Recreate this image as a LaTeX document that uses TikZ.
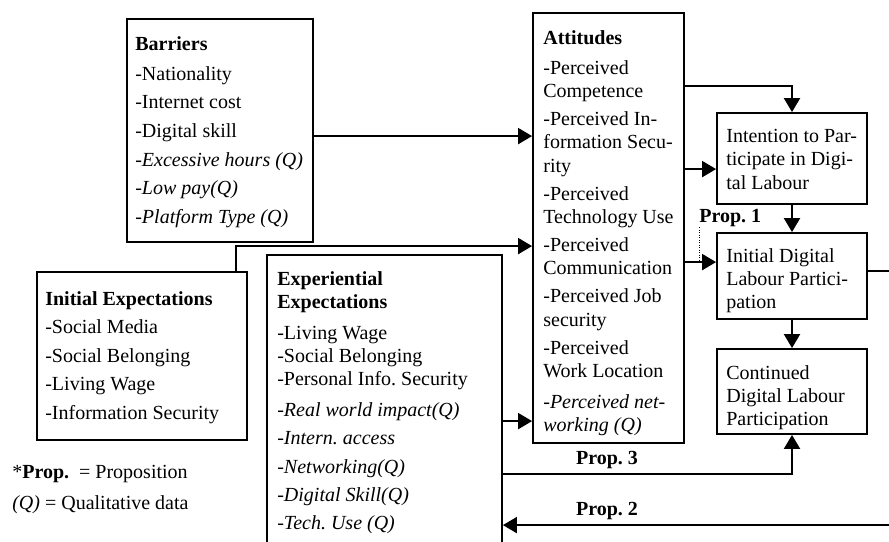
\documentclass[tikz,border=0pt]{standalone}
\usepackage{fontspec}
\setmainfont{Liberation Serif}
\usetikzlibrary{arrows.meta,fit,calc}

\begin{document}
\begin{tikzpicture}[x=0.6pt,y=0.6pt,yscale=-1,xscale=1,
  box/.style={draw, line width=1.1pt, inner sep=0pt},
  txt/.style={anchor=north west, inner sep=0pt, align=left, font=\fontsize{12}{14}\selectfont},
  lbl/.style={inner sep=0pt, font=\fontsize{12}{14}\selectfont\bfseries},
  arr/.style={line width=1.2pt, -{Triangle[length=8.4pt,width=9.6pt]}}]
\useasboundingbox (0,0) rectangle (889,541);

%Shape: Rectangle
\node[box, fit={(127,19) (313,242)}] (barriers) {};
\node[box, fit={(533,13) (684,443)}] (attitudes) {};
\node[box, fit={(717,113) (867,204)}] (intention) {};
\node[box, fit={(717,233) (867,319)}] (initial) {};
\node[box, fit={(717,349) (867,434)}] (continued) {};
\node[box, fit={(37,272) (247,440)}] (initexp) {};
\node[box, fit={(267,255) (502,575)}] (experexp) {};

% Text Node
\node[txt] (barrierstxt) at (135,36) {\textbf{Barriers}\\[4pt]-Nationality\\[3.2pt]-Internet cost\\[3.2pt]-Digital skill\\[3.2pt]\textit{-Excessive hours (Q)}\\[3.2pt]\textit{-Low pay(Q)}\\[3.2pt]\textit{-Platform Type (Q)}};
% Text Node
\node[txt] (attitudestxt) at (543,30) {\textbf{Attitudes}\\[4pt]-Perceived\\Competence\\[2.8pt]-Perceived In-\\formation Secu-\\rity\\[2.8pt]-Perceived\\Technology Use\\[2.8pt]-Perceived\\Communication\\[2.8pt]-Perceived Job\\security\\[2.8pt]-Perceived\\Work Location\\[4.4pt]\textit{-Perceived net-}\\\textit{working (Q)}};
% Text Node
\node[txt] (intentiontxt) at (726,129) {Intention to Par-\\ticipate in Digi-\\tal Labour};
% Text Node
\node[txt] (initialtxt) at (726,248) {Initial Digital\\Labour Partici-\\pation};
% Text Node
\node[txt] (continuedtxt) at (726,365) {Continued\\Digital Labour\\Participation};
% Text Node
\node[txt] (initexptxt) at (45,291) {\textbf{Initial Expectations}\\[3.1pt]-Social Media\\[3.1pt]-Social Belonging\\[3.1pt]-Living Wage\\[3.1pt]-Information Security};
% Text Node
\node[txt] (experexptxt) at (277,271) {\textbf{Experiential}\\\textbf{Expectations}\\[4.4pt]-Living Wage\\-Social Belonging\\-Personal Info.\ Security\\[4.4pt]\textit{-Real world impact(Q)}\\[3pt]\textit{-Intern.\ access}\\[3pt]\textit{-Networking(Q)}\\[3pt]\textit{-Digital Skill(Q)}\\[3pt]\textit{-Tech.\ Use (Q)}};
% Text Node
\node[txt] (legend) at (12,465) {*\textbf{Prop.}\ \ = Proposition\\[4.4pt]\textit{(Q)} = Qualitative data};
% Text Node
\node[lbl, anchor=west] (prop1) at (699,218) {Prop.\ 1};
\node[lbl] (prop3) at (607,460) {Prop.\ 3};
\node[lbl] (prop2) at (607,511) {Prop.\ 2};

%Straight Lines
\path ($(barriers.north east)+(0,118)$) coordinate (b-out)
      ($(initexp.north east)+(-12,0)$) coordinate (ie-out)
      ($(attitudes.north west)+(0,234)$) coordinate (a-in)
      ($(experexp.north east)+(0,167)$) coordinate (e-out)
      ($(experexp.north east)+(0,220)$) coordinate (e-out2)
      ($(experexp.north east)+(0,271)$) coordinate (e-in)
      ($(attitudes.north east)+(0,74)$) coordinate (a-out1)
      ($(attitudes.north east)+(0,157)$) coordinate (a-out2)
      ($(attitudes.north east)+(0,250)$) coordinate (a-out3)
      ($(initial.north east)+(0,39)$) coordinate (i-out);
\draw[arr] (b-out) -- (b-out -| attitudes.west);
\draw[arr] (ie-out) |- (a-in);
\draw[arr] (e-out) -- (e-out -| attitudes.west);
\draw[arr] (a-out1) -| (intention.north);
\draw[arr] (a-out2) -- (a-out2 -| intention.west);
\draw[arr] (a-out3) -- (a-out3 -| initial.west);
\draw[arr] (intention.south) -- (initial.north);
\draw[arr] (initial.south) -- (continued.north);
\draw[arr] (e-out2) -| (continued.south);
\draw[arr] (i-out) -- ++(40,0) |- (e-in);
\draw[densely dotted, line width=0.5pt] (prop1.south west) -- (prop1.south west |- a-out3);

\end{tikzpicture}
\end{document}
